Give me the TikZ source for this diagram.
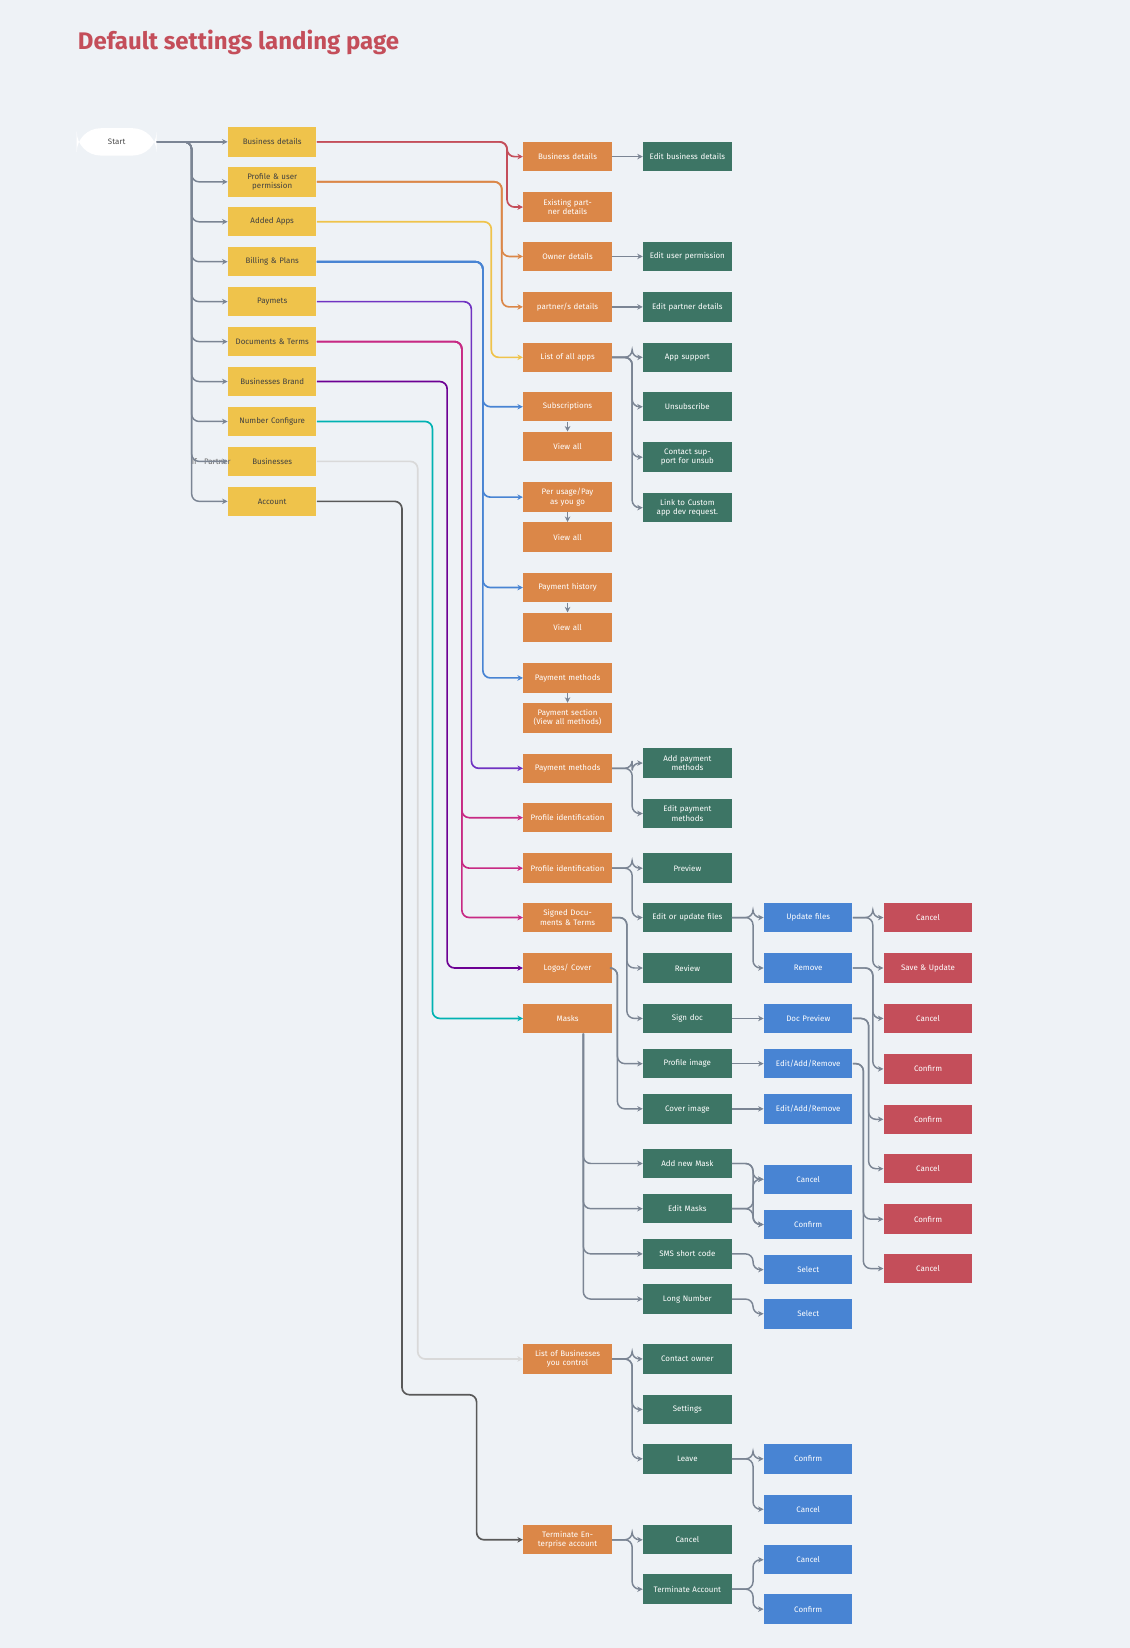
\documentclass[tikz,border=0pt]{standalone}
\usepackage{fontspec}
\setmainfont{Fira Sans}
\usetikzlibrary{arrows.meta,calc}
\definecolor{bgc}{HTML}{EEF2F6}
\definecolor{ylw}{HTML}{EFC34B}
\definecolor{org}{HTML}{DB8748}
\definecolor{grn}{HTML}{3D7565}
\definecolor{blu}{HTML}{4884D3}
\definecolor{rd}{HTML}{C44E5A}
\definecolor{lnc}{HTML}{7B8594}
\begin{document}
\begin{tikzpicture}[x=0.02cm,y=-0.02cm]
            \tikzstyle{box}=[draw=none,minimum width=1.52cm,minimum height=0.56cm,text width=1.45cm,align=center,font=\fontsize{4.3}{5}\selectfont,text=white]
            \tikzstyle{yb}=[box,fill=ylw,text=black!75]
            \tikzstyle{ob}=[box,fill=org]
            \tikzstyle{gb}=[box,fill=grn]
            \tikzstyle{bb}=[box,fill=blu]
            \tikzstyle{rb}=[box,fill=rd]
            \tikzstyle{flow}=[draw=lnc,line width=0.8pt,rounded corners=4,-{Stealth[length=3pt,width=3pt]}]
            \tikzstyle{feed}=[line width=0.9pt,rounded corners=4,-{Stealth[length=3pt,width=3pt]}]
            \fill[bgc] (0,0) rectangle (1075,1568);
            \node[anchor=west,text=rd,font=\fontsize{13}{15}\selectfont\bfseries] (title) at (68,40) {Default settings landing page};

            % first column
            \node[fill=white,rounded corners=13,minimum width=1.52cm,minimum height=0.52cm,font=\fontsize{4.3}{5}\selectfont,text=black!70] (st) at (111,135) {Start};
            \node[yb] (y1) at (259,135) {Business details};
            \node[yb] (y2) at (259,173) {Profile \& user permission};
            \node[yb] (y3) at (259,211) {Added Apps};
            \node[yb] (y4) at (259,249) {Billing \& Plans};
            \node[yb] (y5) at (259,287) {Paymets};
            \node[yb] (y6) at (259,325) {Documents \& Terms};
            \node[yb] (y7) at (259,363) {Businesses Brand};
            \node[yb] (y8) at (259,401) {Number Configure};
            \node[yb] (y9) at (259,439) {Businesses};
            \node[yb] (y10) at (259,477) {Account};
            \node[font=\fontsize{4.3}{5}\selectfont,text=black!60] (ifp) at (201,439) {If - Partner};

            % second column
            \node[ob] (o1) at (540,149) {Business details};
            \node[ob] (o2) at (540,197) {Existing partner details};
            \node[ob] (o3) at (540,244) {Owner details};
            \node[ob] (o4) at (540,292) {partner/s details};
            \node[ob] (o5) at (540,340) {List of all apps};
            \node[ob] (o6) at (540,387) {Subscriptions};
            \node[ob] (o7) at (540,425) {View all};
            \node[ob] (o8) at (540,473) {Per usage/Pay as you go};
            \node[ob] (o9) at (540,511) {View all};
            \node[ob] (o10) at (540,559) {Payment history};
            \node[ob] (o11) at (540,597) {View all};
            \node[ob] (o12) at (540,645) {Payment methods};
            \node[ob] (o13) at (540,683) {Payment section (View all methods)};
            \node[ob] (o14) at (540,731) {Payment methods};
            \node[ob] (o15) at (540,778) {Profile identification};
            \node[ob] (o16) at (540,826) {Profile identification};
            \node[ob] (o17) at (540,873) {Signed Documents \& Terms};
            \node[ob] (o18) at (540,921) {Logos/ Cover};
            \node[ob] (o19) at (540,969) {Masks};
            \node[ob] (o20) at (540,1293) {List of Businesses you control};
            \node[ob] (o21) at (540,1465) {Terminate Enterprise account};

            % third column
            \node[gb] (g1) at (654,149) {Edit business details};
            \node[gb] (g2) at (654,244) {Edit user permission};
            \node[gb] (g3) at (654,292) {Edit partner details};
            \node[gb] (g4) at (654,340) {App support};
            \node[gb] (g5) at (654,387) {Unsubscribe};
            \node[gb] (g6) at (654,435) {Contact support for unsub};
            \node[gb] (g7) at (654,483) {Link to Custom app dev request.};
            \node[gb] (g8) at (654,726) {Add payment methods};
            \node[gb] (g9) at (654,774) {Edit payment methods};
            \node[gb] (g10) at (654,826) {Preview};
            \node[gb] (g11) at (654,873) {Edit or update files};
            \node[gb] (g12) at (654,921) {Review};
            \node[gb] (g13) at (654,969) {Sign doc};
            \node[gb] (g14) at (654,1012) {Profile image};
            \node[gb] (g15) at (654,1055) {Cover image};
            \node[gb] (g16) at (654,1107) {Add new Mask};
            \node[gb] (g17) at (654,1150) {Edit Masks};
            \node[gb] (g18) at (654,1193) {SMS short code};
            \node[gb] (g19) at (654,1236) {Long Number};
            \node[gb] (g20) at (654,1293) {Contact owner};
            \node[gb] (g21) at (654,1341) {Settings};
            \node[gb] (g22) at (654,1388) {Leave};
            \node[gb] (g23) at (654,1465) {Cancel};
            \node[gb] (g24) at (654,1512) {Terminate Account};

            % fourth column
            \node[bb] (b1) at (769,873) {Update files};
            \node[bb] (b2) at (769,921) {Remove};
            \node[bb] (b3) at (769,969) {Doc Preview};
            \node[bb] (b4) at (769,1012) {Edit/Add/Remove};
            \node[bb] (b5) at (769,1055) {Edit/Add/Remove};
            \node[bb] (b6) at (769,1122) {Cancel};
            \node[bb] (b7) at (769,1165) {Confirm};
            \node[bb] (b8) at (769,1208) {Select};
            \node[bb] (b9) at (769,1250) {Select};
            \node[bb] (b10) at (769,1388) {Confirm};
            \node[bb] (b11) at (769,1436) {Cancel};
            \node[bb] (b12) at (769,1484) {Cancel};
            \node[bb] (b13) at (769,1531) {Confirm};

            % fifth column
            \node[rb] (r1) at (883,873) {Cancel};
            \node[rb] (r2) at (883,921) {Save \& Update};
            \node[rb] (r3) at (883,969) {Cancel};
            \node[rb] (r4) at (883,1017) {Confirm};
            \node[rb] (r5) at (883,1065) {Confirm};
            \node[rb] (r6) at (883,1112) {Cancel};
            \node[rb] (r7) at (883,1160) {Confirm};
            \node[rb] (r8) at (883,1207) {Cancel};

            % start
            \draw[flow] (st.east) -- (y1.west);
            \foreach \n in {y2,y3,y4,y5,y6,y7,y8,y9,y10}
                \draw[flow] (st.east) -- ++(33,0) |- (\n.west);

            % coloured feeds
            \draw[feed,draw=rd] (y1.east) -- ++(181,0) |- (o1.west);
            \draw[feed,draw=rd] (y1.east) -- ++(181,0) |- (o2.west);
            \draw[feed,draw=org] (y2.east) -- ++(176,0) |- (o3.west);
            \draw[feed,draw=org] (y2.east) -- ++(176,0) |- (o4.west);
            \draw[feed,draw=ylw] (y3.east) -- ++(166,0) |- (o5.west);
            \draw[feed,draw=blu] (y4.east) -- ++(158,0) |- (o6.west);
            \draw[feed,draw=blu] (y4.east) -- ++(158,0) |- (o8.west);
            \draw[feed,draw=blu] (y4.east) -- ++(158,0) |- (o10.west);
            \draw[feed,draw=blu] (y4.east) -- ++(158,0) |- (o12.west);
            \draw[feed,draw=blue!40!violet!80] (y5.east) -- ++(147,0) |- (o14.west);
            \draw[feed,draw=magenta!60!violet] (y6.east) -- ++(138,0) |- (o15.west);
            \draw[feed,draw=magenta!60!violet] (y6.east) -- ++(138,0) |- (o16.west);
            \draw[feed,draw=magenta!60!violet] (y6.east) -- ++(138,0) |- (o17.west);
            \draw[feed,draw=violet!85!blue] (y7.east) -- ++(124,0) |- (o18.west);
            \draw[feed,draw=teal!60!cyan] (y8.east) -- ++(110,0) |- (o19.west);
            \draw[feed,draw=black!15] (y9.east) -- ++(96,0) |- (o20.west);
            \draw[feed,draw=black!65] (y10.east) -- ++(81,0) -- ++(0,850) -- ++(71,0) |- (o21.west);

            % short steps
            \draw[flow] (o6.south) -- (o7.north);
            \draw[flow] (o8.south) -- (o9.north);
            \draw[flow] (o10.south) -- (o11.north);
            \draw[flow] (o12.south) -- (o13.north);

            % second to third
            \draw[flow] (o1.east) -- (g1.west);
            \draw[flow] (o3.east) -- (g2.west);
            \draw[flow] (o4.east) -- (g3.west);
            \foreach \n in {g4,g5,g6,g7}
                \draw[flow] (o5.east) -- ++(19,0) |- (\n.west);
            \foreach \n in {g8,g9}
                \draw[flow] (o14.east) -- ++(19,0) |- (\n.west);
            \foreach \n in {g10,g11}
                \draw[flow] (o16.east) -- ++(19,0) |- (\n.west);
            \foreach \n in {g12,g13}
                \draw[flow] (o17.east) -- ++(14,0) |- (\n.west);
            \foreach \n in {g14,g15}
                \draw[flow] (o18.east) -- ++(5,0) |- (\n.west);
            \foreach \n in {g16,g17,g18,g19}
                \draw[flow] ($(o19.south)+(15,0)$) |- (\n.west);
            \foreach \n in {g20,g21,g22}
                \draw[flow] (o20.east) -- ++(19,0) |- (\n.west);
            \foreach \n in {g23,g24}
                \draw[flow] (o21.east) -- ++(19,0) |- (\n.west);

            % third to fourth
            \foreach \n in {b1,b2}
                \draw[flow] (g11.east) -- ++(20,0) |- (\n.west);
            \draw[flow] (g13.east) -- (b3.west);
            \draw[flow] (g14.east) -- (b4.west);
            \draw[flow] (g15.east) -- (b5.west);
            \foreach \n in {b6,b7} {
                \draw[flow] (g16.east) -- ++(20,0) |- (\n.west);
                \draw[flow] (g17.east) -- ++(20,0) |- (\n.west);
            }
            \draw[flow] (g18.east) -- ++(20,0) |- (b8.west);
            \draw[flow] (g19.east) -- ++(20,0) |- (b9.west);
            \foreach \n in {b10,b11}
                \draw[flow] (g22.east) -- ++(20,0) |- (\n.west);
            \foreach \n in {b12,b13}
                \draw[flow] (g24.east) -- ++(20,0) |- (\n.west);

            % fourth to fifth
            \foreach \n in {r1,r2}
                \draw[flow] (b1.east) -- ++(19,0) |- (\n.west);
            \foreach \n in {r3,r4}
                \draw[flow] (b2.east) -- ++(19,0) |- (\n.west);
            \foreach \n in {r5,r6}
                \draw[flow] (b3.east) -- ++(15,0) |- (\n.west);
            \foreach \n in {r7,r8}
                \draw[flow] (b4.east) -- ++(10,0) |- (\n.west);
        \end{tikzpicture}
\end{document}
